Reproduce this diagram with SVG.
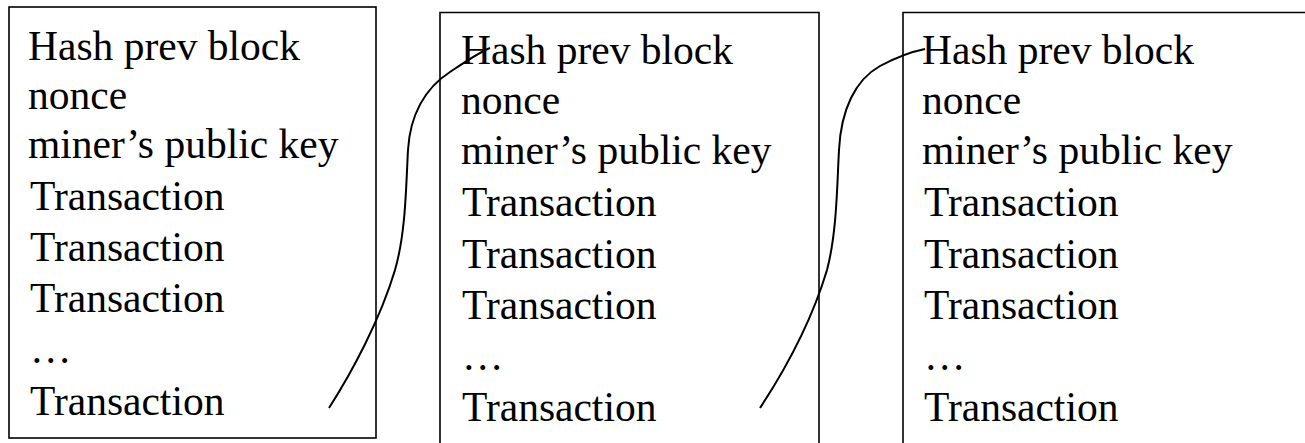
<svg xmlns="http://www.w3.org/2000/svg" width="1305" height="443" viewBox="0 0 1305 443">
<style>
.box{fill:none;stroke:#000;stroke-width:1.6}
.t{font-family:"Liberation Serif","Times New Roman",serif;font-size:41.5px;fill:#000}
.c{fill:none;stroke:#000;stroke-width:2}
</style>
<rect width="1305" height="443" fill="#fff"/>
<g id="block1">
<rect class="box" x="9" y="7" width="367" height="431"/>
<text class="t" x="28" y="60">Hash prev block</text>
<text class="t" x="28" y="109">nonce</text>
<text class="t" x="28" y="158">miner’s public key</text>
<text class="t" x="30" y="210">Transaction</text>
<text class="t" x="30" y="261">Transaction</text>
<text class="t" x="30" y="312">Transaction</text>
<text class="t" x="30" y="363">…</text>
<text class="t" x="30" y="415">Transaction</text>
</g>
<g id="block2">
<path class="box" d="M440,450 V12.5 H819 V450"/>
<text class="t" x="461" y="64">Hash prev block</text>
<text class="t" x="461" y="114">nonce</text>
<text class="t" x="461" y="164">miner’s public key</text>
<text class="t" x="462" y="216">Transaction</text>
<text class="t" x="462" y="268">Transaction</text>
<text class="t" x="462" y="319">Transaction</text>
<text class="t" x="462" y="370">…</text>
<text class="t" x="462" y="421">Transaction</text>
</g>
<g id="block3">
<path class="box" d="M903,450 V12.5 H1310"/>
<text class="t" x="922" y="64">Hash prev block</text>
<text class="t" x="922" y="114">nonce</text>
<text class="t" x="922" y="164">miner’s public key</text>
<text class="t" x="924" y="216">Transaction</text>
<text class="t" x="924" y="268">Transaction</text>
<text class="t" x="924" y="319">Transaction</text>
<text class="t" x="924" y="370">…</text>
<text class="t" x="924" y="421">Transaction</text>
</g>
<g id="connectors">
<path class="c" d="M329,408 C352,372 380,320 395,270 C406,232 406,185 408,150 C410,115 425,88 450,72 C465,62 478,53 490,48"/>
<path class="c" d="M760,408 C785,370 812,320 827,270 C837,232 837,185 839,150 C841,110 855,80 880,66 C895,58 910,52 925,49"/>
</g>
</svg>
